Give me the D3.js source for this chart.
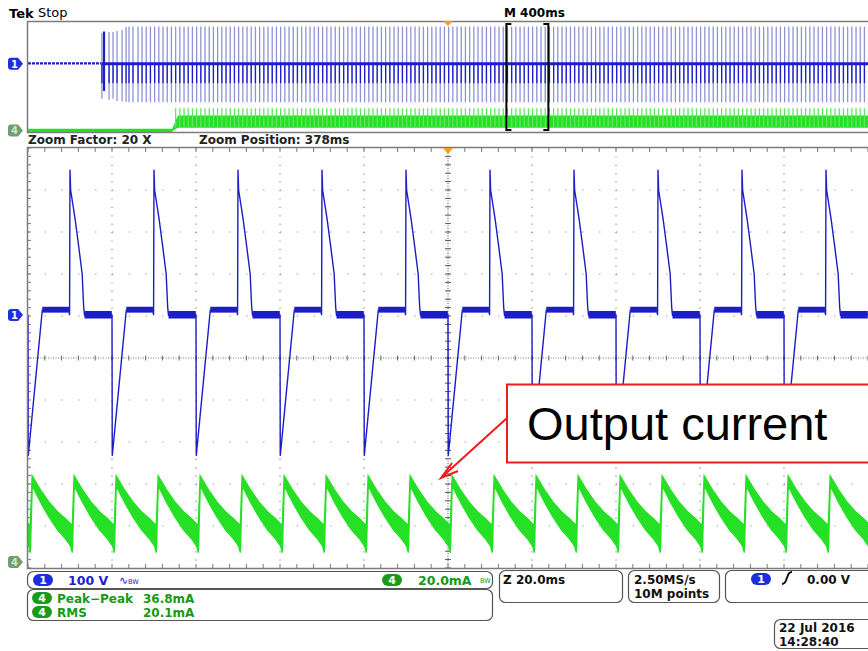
<!DOCTYPE html>
<html><head><meta charset="utf-8">
<script src="https://cdn.jsdelivr.net/npm/d3@7"></script>
<style>
body{margin:0;background:#fff}
svg{display:block}
text{font-family:"DejaVu Sans",sans-serif}
</style>
</head><body>
<svg id="c" width="868" height="651"></svg>
<script>
// ---------------- DATA ----------------
const zoomDomainMs = [-10, 10];           // 2 ms/div, 10 divisions
const overviewDomainMs = [-2000, 2000];   // 400 ms/div
const zoomPositionMs = 378, zoomFactor = 20;
const ch1VoltsPerDiv = 100, ch4MilliampsPerDiv = 20;
const ch1PositionDiv = 1.0, ch4PositionDiv = -4.86;

// Channel 1 (switch-node voltage): cycle start times and one cycle shape
const ch1CycleStarts = [-10, -8, -6, -4, -2, 0, 2, 4, 6, 8];
const ch1CycleT = [0, 0.006, 0.34, 0.975, 0.99, 1.0, 1.015, 1.12, 1.19, 1.29, 1.325, 1.345, 1.99, 2.0];
const ch1CycleV = [2, -333, 14, 14, 2, 348, 300, 232, 179, 100, 22, 2, 4, 2];
// noisy flat parts of each cycle
const ch1BandStart = [0.34, 1.345];
const ch1BandEnd   = [0.975, 1.995];
const ch1BandLowV  = [8, -6];
const ch1BandHighV = [22, 12];

// Channel 4 (output current): peak times and one ripple cycle envelope
const ch4PeakTimes = [-10.9, -9.9, -8.9, -7.9, -6.9, -5.9, -4.9, -3.9, -2.9, -1.9, -0.9,
                      0.1, 1.1, 2.1, 3.1, 4.1, 5.1, 6.1, 7.1, 8.1, 9.1];
const ch4CycleT  = [0, 0.1, 0.2, 0.4, 0.6, 0.8, 0.92, 0.955, 1.0];
const ch4CycleHi = [41, 37.6, 34.3, 28.5, 24, 20.5, 18, 17, 41];
const ch4CycleLo = [36.5, 32.5, 28.5, 21.5, 15.5, 11, 7.5, 4.5, 36.5];

// Overview record (400 ms/div)
const ovPreBurstV = 18;
const ovStartupLinesMs = [-1648, -1614, -1595, -1576, -1552, -1533, -1519, -1500, -1476];
const ovStartupTopV    = [292, 301, 301, 310, 319, 346, 350, 350, 350];
const ovStartupBottomV = [-300, -310, -300, -320, -325, -330, -333, -333, -333];
const ovGlitchMs = -1638, ovGlitchLowV = -230, ovGlitchHighV = 305;
const ovSteadyFirstMs = -1457, ovSteadyStepMs = 20;
const ovLineTopV = 350, ovLineBottomV = -333, ovDarkLowV = -160, ovFlatV = 15;
const ov4RampMs = [-1314, -1286];
const ov4BandLowMA = 5, ov4BandBodyMA = 27, ov4SpikeMA = 40;

// Readouts
const headerLabels = ["Tek", "Stop", "M 400ms"];
const zoomLabels = ["Zoom Factor: 20 X", "Zoom Position: 378ms"];
const ch1Scale = "100 V", ch4Scale = "20.0mA";
const measNames = ["Peak\u2212Peak", "RMS"];
const measValues = ["36.8mA", "20.1mA"];
const timebase = "Z 20.0ms";
const acq = ["2.50MS/s", "10M points"];
const trigLevel = "0.00 V";
const dateLines = ["22 Jul  2016", "14:28:40"];
const annotation = "Output current";

// ---------------- DRAW ----------------
const svg = d3.select("#c");
const BLUE = "#1c1cc8", LBLUE = "#8f94d4", GREEN = "#26e026", TXTGREEN = "#169a16";
const GRID = "#8c8c8c", FRAME = "#7c7c7c";

const xMain = d3.scaleLinear().domain(zoomDomainMs).range([28, 868]);
const yMain = d3.scaleLinear().domain([-5, 5]).range([568, 148]);
const xOv = d3.scaleLinear().domain(overviewDomainMs).range([28, 868]);
const yOv = d3.scaleLinear().domain([-5, 5]).range([132, 21]);
const v1 = v => ch1PositionDiv + v / ch1VoltsPerDiv;
const i4 = a => ch4PositionDiv + a / ch4MilliampsPerDiv;

const defs = svg.append("defs");
defs.append("clipPath").attr("id", "clipMain").append("rect")
  .attr("x", 28).attr("y", 148).attr("width", 840).attr("height", 420);
defs.append("clipPath").attr("id", "clipOv").append("rect")
  .attr("x", 28).attr("y", 22).attr("width", 840).attr("height", 110);

// header
svg.append("text").attr("x", 9).attr("y", 18).attr("font-weight", "bold").attr("font-size", 13).text(headerLabels[0]);
svg.append("text").attr("x", 38).attr("y", 17).attr("font-size", 13).text(headerLabels[1]);
svg.append("text").attr("x", 504).attr("y", 17).attr("font-weight", "bold").attr("font-size", 12).text(headerLabels[2]);

// ---- overview panel ----
const gOv = svg.append("g").attr("clip-path", "url(#clipOv)");
const steadyLines = d3.range(ovSteadyFirstMs, overviewDomainMs[1], ovSteadyStepMs);
const allLines = ovStartupLinesMs.map((t, i) => ({t, top: ovStartupTopV[i], bot: ovStartupBottomV[i]}))
  .concat(steadyLines.map(t => ({t, top: ovLineTopV, bot: ovLineBottomV})));

// green overview
gOv.append("line").attr("x1", xOv(overviewDomainMs[0])).attr("x2", xOv(ov4RampMs[0]))
  .attr("y1", yOv(i4(0))).attr("y2", yOv(i4(0))).attr("stroke", GREEN).attr("stroke-width", 3.5);
const ov4Area = d3.area().x(d => xOv(d[0])).y0(d => yOv(i4(d[1]))).y1(d => yOv(i4(d[2])));
gOv.append("path").datum([[ov4RampMs[0], -1.5, 2], [ov4RampMs[1], ov4BandLowMA, ov4BandBodyMA], [overviewDomainMs[1], ov4BandLowMA, ov4BandBodyMA]])
  .attr("d", ov4Area).attr("fill", GREEN);
gOv.selectAll("line.g4").data(allLines.filter(d => d.t > ov4RampMs[0] + 8)).join("line")
  .attr("x1", d => xOv(d.t)).attr("x2", d => xOv(d.t))
  .attr("y1", yOv(i4(ov4BandLowMA))).attr("y2", yOv(i4(ov4SpikeMA)))
  .attr("stroke", "#5ee85e").attr("stroke-width", 1.3);

// blue overview
gOv.append("line").attr("x1", xOv(overviewDomainMs[0])).attr("x2", xOv(ovStartupLinesMs[0]))
  .attr("y1", yOv(v1(ovPreBurstV))).attr("y2", yOv(v1(ovPreBurstV)))
  .attr("stroke", BLUE).attr("stroke-width", 2.2).attr("stroke-dasharray", "3,1");
gOv.selectAll("line.lb").data(allLines).join("line")
  .attr("x1", d => xOv(d.t)).attr("x2", d => xOv(d.t))
  .attr("y1", d => yOv(v1(d.top))).attr("y2", d => yOv(v1(d.bot)))
  .attr("stroke", LBLUE).attr("stroke-width", 1.3);
gOv.selectAll("line.db").data(allLines).join("line")
  .attr("x1", d => xOv(d.t)).attr("x2", d => xOv(d.t))
  .attr("y1", yOv(v1(ovFlatV))).attr("y2", yOv(v1(ovDarkLowV)))
  .attr("stroke", BLUE).attr("stroke-width", 1.3);
gOv.append("line").attr("x1", xOv(ovStartupLinesMs[0])).attr("x2", xOv(overviewDomainMs[1]))
  .attr("y1", yOv(v1(ovFlatV))).attr("y2", yOv(v1(ovFlatV)))
  .attr("stroke", BLUE).attr("stroke-width", 3);
gOv.append("line").attr("x1", xOv(ovGlitchMs)).attr("x2", xOv(ovGlitchMs))
  .attr("y1", yOv(v1(ovGlitchHighV))).attr("y2", yOv(v1(ovGlitchLowV)))
  .attr("stroke", BLUE).attr("stroke-width", 2.2);

// overview frame
svg.append("path").attr("d", "M870,21.5 H27.5 V132.5 H870").attr("fill", "none")
  .attr("stroke", FRAME).attr("stroke-width", 1.5);

// zoom bracket
const zx0 = xOv(zoomPositionMs - (overviewDomainMs[1] - overviewDomainMs[0]) / zoomFactor / 2);
const zx1 = xOv(zoomPositionMs + (overviewDomainMs[1] - overviewDomainMs[0]) / zoomFactor / 2);
svg.append("path").attr("d", `M${zx0 + 5},24 H${zx0} V130 H${zx0 + 5}`).attr("fill", "none").attr("stroke", "#000").attr("stroke-width", 2);
svg.append("path").attr("d", `M${zx1 - 5},24 H${zx1} V130 H${zx1 - 5}`).attr("fill", "none").attr("stroke", "#000").attr("stroke-width", 2);

// trigger markers
const trig = (x, y, h) => svg.append("path").attr("d", `M${x - 5},${y} H${x + 5} L${x},${y + h} Z`).attr("fill", "#f2a020");
trig(xOv(0), 21, 5);

// zoom labels
svg.append("text").attr("x", 28).attr("y", 144).attr("font-size", 12).attr("font-weight", "bold").attr("fill", "#222").text(zoomLabels[0]);
svg.append("text").attr("x", 199).attr("y", 144).attr("font-size", 12).attr("font-weight", "bold").attr("fill", "#222").text(zoomLabels[1]);

// ---- main grid ----
const gGrid = svg.append("g");
d3.range(1, 10).forEach(k => {
  const x = xMain(zoomDomainMs[0] + 2 * k);
  if (k === 5) return;
  gGrid.append("line").attr("x1", x).attr("x2", x).attr("y1", 148).attr("y2", 568)
    .attr("stroke", GRID).attr("stroke-width", 1.2).attr("stroke-dasharray", "1.2,7.2");
});
d3.range(1, 10).forEach(k => {
  const y = yMain(-5 + k);
  if (k === 5) return;
  gGrid.append("line").attr("x1", 28).attr("x2", 868).attr("y1", y).attr("y2", y)
    .attr("stroke", GRID).attr("stroke-width", 1.2).attr("stroke-dasharray", "1.2,15.6");
});
// center crosshair
const cx = xMain(0), cy = yMain(0);
gGrid.append("line").attr("x1", 28).attr("x2", 868).attr("y1", cy).attr("y2", cy)
  .attr("stroke", "#777").attr("stroke-width", 1).attr("stroke-dasharray", "1,1.5");
gGrid.append("line").attr("x1", cx).attr("x2", cx).attr("y1", 148).attr("y2", 568)
  .attr("stroke", "#555").attr("stroke-width", 1).attr("stroke-dasharray", "1,1.5");
d3.range(0, 51).forEach(j => {
  const x = 28 + j * 16.8;
  gGrid.append("line").attr("x1", x).attr("x2", x).attr("y1", cy - 2.5).attr("y2", cy + 2.5).attr("stroke", "#666");
  gGrid.append("line").attr("x1", x).attr("x2", x).attr("y1", 148).attr("y2", 152).attr("stroke", "#777");
  gGrid.append("line").attr("x1", x).attr("x2", x).attr("y1", 564).attr("y2", 568).attr("stroke", "#777");
});
d3.range(0, 51).forEach(j => {
  const y = 148 + j * 8.4;
  gGrid.append("line").attr("x1", cx - 3).attr("x2", cx + 3).attr("y1", y).attr("y2", y).attr("stroke", "#555");
  gGrid.append("line").attr("x1", 28).attr("x2", 31).attr("y1", y).attr("y2", y).attr("stroke", "#777");
});

// ---- main traces ----
const gMain = svg.append("g").attr("clip-path", "url(#clipMain)");
// ch4 green ripple
const ch4Pts = [];
ch4PeakTimes.forEach(p => ch4CycleT.forEach((t, i) => ch4Pts.push([p + t, ch4CycleLo[i], ch4CycleHi[i]])));
gMain.append("path").datum(ch4Pts)
  .attr("d", d3.area().x(d => xMain(d[0])).y0(d => yMain(i4(d[1]))).y1(d => yMain(i4(d[2]))))
  .attr("fill", GREEN).attr("stroke", GREEN).attr("stroke-width", 1.5);

// ch1 blue
const ch1Pts = [];
ch1CycleStarts.forEach(s => ch1CycleT.forEach((t, i) => ch1Pts.push([s + t, ch1CycleV[i]])));
gMain.append("path").datum(ch1Pts)
  .attr("d", d3.line().x(d => xMain(d[0])).y(d => yMain(v1(d[1]))))
  .attr("fill", "none").attr("stroke", BLUE).attr("stroke-width", 1.4);
ch1CycleStarts.forEach(s => ch1BandStart.forEach((b, i) => {
  gMain.append("rect").attr("x", xMain(s + b)).attr("width", xMain(s + ch1BandEnd[i]) - xMain(s + b))
    .attr("y", yMain(v1(ch1BandHighV[i]))).attr("height", yMain(v1(ch1BandLowV[i])) - yMain(v1(ch1BandHighV[i])))
    .attr("fill", BLUE);
}));

// main frame
svg.append("path").attr("d", "M870,147.5 H27.5 V568.5 H870").attr("fill", "none")
  .attr("stroke", FRAME).attr("stroke-width", 1.5);
trig(xMain(0), 148, 6);

// channel markers
function marker(cyy, label, fill, tf) {
  svg.append("path").attr("d", `M11,${cyy - 6} H18 L23,${cyy} L18,${cyy + 6} H11 Q8,${cyy + 6} 8,${cyy + 3} V${cyy - 3} Q8,${cyy - 6} 11,${cyy - 6} Z`).attr("fill", fill);
  svg.append("text").attr("x", 14.5).attr("y", cyy + 4).attr("text-anchor", "middle")
    .attr("font-size", 10).attr("font-weight", "bold").attr("fill", tf).text(label);
}
marker(yOv(v1(ovFlatV)), "1", "#2030e0", "#fff");
marker(yOv(i4(0)), "4", "#6f9f6f", "#cfe3cf");
marker(yMain(v1(0)) - 1, "1", "#2030e0", "#fff");
marker(yMain(i4(0)), "4", "#6f9f6f", "#cfe3cf");

// ---- annotation ----
svg.append("rect").attr("x", 507).attr("y", 384.5).attr("width", 370).attr("height", 78)
  .attr("fill", "#fff").attr("stroke", "#ee1c1c").attr("stroke-width", 2);
svg.append("text").attr("x", 527).attr("y", 440)
  .style("font-family", "'Liberation Sans', Arial, sans-serif")
  .attr("font-size", 47).attr("fill", "#000").text(annotation);
svg.append("line").attr("x1", 507).attr("y1", 418).attr("x2", 442).attr("y2", 477)
  .attr("stroke", "#ee1c1c").attr("stroke-width", 2);
svg.append("path").attr("d", "M452,463 L441,478 L458,471").attr("fill", "none")
  .attr("stroke", "#ee1c1c").attr("stroke-width", 2);

// ---- status bar ----
const box = (x, y, w, h) => svg.append("rect").attr("x", x).attr("y", y).attr("width", w).attr("height", h)
  .attr("rx", 6).attr("fill", "#fff").attr("stroke", "#555").attr("stroke-width", 1.2);
const pill = (x, y, label, fill) => {
  svg.append("rect").attr("x", x).attr("y", y).attr("width", 20).attr("height", 12).attr("rx", 6).attr("fill", fill);
  svg.append("text").attr("x", x + 10).attr("y", y + 10).attr("text-anchor", "middle").attr("font-size", 11)
    .attr("font-weight", "bold").attr("fill", "#fff").text(label);
};
const txt = (x, y, s, fill, size = 12, w = "bold") => svg.append("text").attr("x", x).attr("y", y)
  .attr("font-size", size).attr("font-weight", w).attr("fill", fill).text(s);

box(27.5, 571.5, 465, 17);
pill(33, 574, "1", "#1a2ee0");
txt(68, 585, ch1Scale, "#1a22c8", 12.5);
txt(119, 584, "\u223F", "#1a22c8", 11, "normal");
txt(128, 584, "BW", "#1a22c8", 6.5, "normal");
pill(382, 574, "4", "#1a9a1a");
txt(418, 585, ch4Scale, TXTGREEN, 12.5);
txt(480, 583, "BW", TXTGREEN, 6.5, "normal");

box(27.5, 589.5, 465, 31);
pill(32, 592, "4", "#1a9a1a");
txt(57, 603, measNames[0], TXTGREEN);
txt(143, 603, measValues[0], TXTGREEN);
pill(32, 606, "4", "#1a9a1a");
txt(57, 617, measNames[1], TXTGREEN);
txt(143, 617, measValues[1], TXTGREEN);

box(499.5, 570.5, 123, 32);
txt(503, 584, timebase, "#111");
box(628.5, 570.5, 91, 32);
txt(634, 584, acq[0], "#111");
txt(634, 598, acq[1], "#111");
box(725.5, 570.5, 160, 32);
pill(751, 573, "1", "#1a2ee0");
svg.append("path").attr("d", "M782,584 Q785,584 786.5,579 L788.5,574 Q789.5,572 792,572")
  .attr("fill", "none").attr("stroke", "#111").attr("stroke-width", 2);
txt(807, 584, trigLevel, "#111");
box(774.5, 619.5, 100, 29);
txt(779, 632, dateLines[0], "#111");
txt(779, 646, dateLines[1], "#111");
</script>
</body></html>
